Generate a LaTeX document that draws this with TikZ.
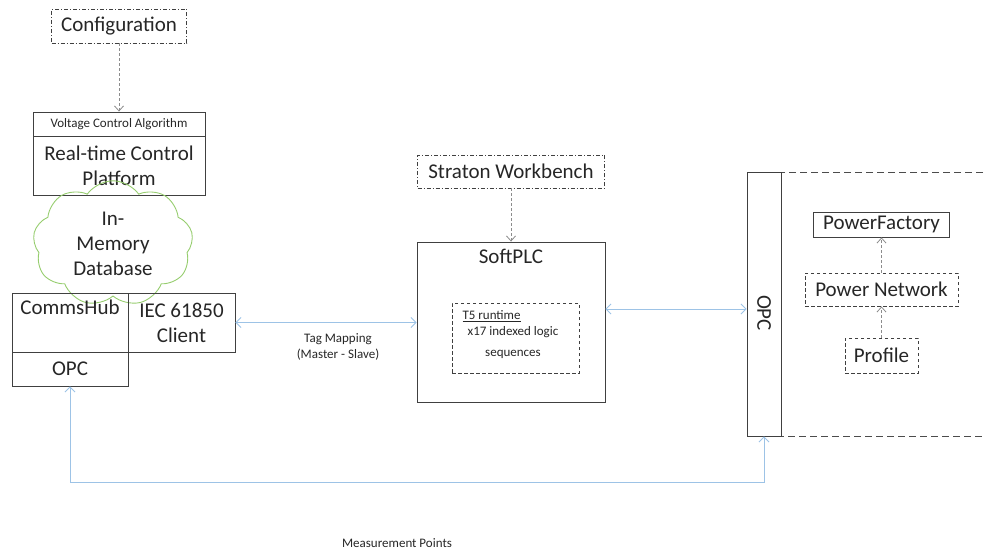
\documentclass[tikz,border=0pt]{standalone}
\usepackage{fontspec}
\setmainfont{Carlito}
\usetikzlibrary{arrows.meta, shapes.symbols}

\definecolor{linkblue}{RGB}{157,195,230}
\definecolor{cloudgreen}{RGB}{150,205,110}

\begin{document}
\begin{tikzpicture}[x=1pt, y=-1pt, every node/.style={font=\fontsize{21}{25}\selectfont, text=black!85}]
  % -----------------------------
  % SETTINGS
  % -----------------------------
  \def\W{985}   % page width
  \def\H{554}   % page height
  \def\ybus{482} % bottom measurement line

  % -----------------------------
  % STYLES
  % -----------------------------
  \tikzset{
    blk/.style={draw=black!75, line width=0.9pt, inner sep=0pt, align=center},
    blkd/.style={blk, dash pattern=on 3.5pt off 2.5pt},
    blkdd/.style={blk, dash pattern=on 4pt off 2pt on 1pt off 2pt},
    small/.style={font=\fontsize{13}{21}\selectfont},
    cfgline/.style={draw=black!45, line width=0.8pt, dash pattern=on 3pt off 2pt,
                    -{Straight Barb[length=5pt, width=9pt]}},
    link/.style={draw=linkblue, line width=0.9pt,
                 {Straight Barb[length=5pt, width=10pt]}-{Straight Barb[length=5pt, width=10pt]}},
  }

  \useasboundingbox (0,0) rectangle (\W,\H);

  % -----------------------------
  % LEFT: CONTROL PLATFORM
  % -----------------------------
  \node[blkdd, minimum width=135pt, minimum height=34pt] (cfg) at (119,26) {Configuration};
  \node[blk, small, minimum width=172pt, minimum height=24pt] (vca) at (119,124) {Voltage Control Algorithm};
  \node[blk, minimum width=172pt, minimum height=59pt] (rt) at (119,165.5) {Real-time Control\\Platform};

  \node[cloud, draw=cloudgreen, line width=0.9pt, cloud puffs=9, cloud puff arc=110,
        minimum width=160pt, minimum height=97pt, inner sep=0pt, align=center]
        (imdb) at (113,243.5) {In-\\Memory\\Database};

  \node[blk, minimum width=116pt, minimum height=59pt,
        label={[anchor=north, yshift=-4pt]north:CommsHub}] (hub) at (70,322.5) {};
  \node[blk, minimum width=116pt, minimum height=34pt] (opcl) at (70,369) {OPC};
  \node[blk, minimum width=107pt, minimum height=59pt] (iec) at (181.5,322.5) {IEC 61850\\Client};

  % -----------------------------
  % MIDDLE: SOFTPLC
  % -----------------------------
  \node[blkdd, minimum width=187pt, minimum height=33pt] (straton) at (511,171.5) {Straton Workbench};
  \node[blk, minimum width=188pt, minimum height=160pt,
        label={[anchor=north, yshift=-4pt]north:SoftPLC}] (plc) at (511,322) {};
  \node[blkd, minimum width=127pt, minimum height=70pt] (t5) at (515.5,338) {};
  \node[small, anchor=west] (t5lab) at (459,316) {\underline{T5 runtime}};
  \node[small, align=center] (t5txt) at (513,342.5) {x17 indexed logic\\sequences};

  % -----------------------------
  % RIGHT: OPC + POWERFACTORY
  % -----------------------------
  \draw[draw=black!70, line width=0.9pt, dash pattern=on 7pt off 4pt]
    (\W+20,172) -- (781,172) -- (781,436) -- (\W+20,436);
  \node[blk, minimum width=34pt, minimum height=264pt] (opcr) at (764,304) {};
  \node[rotate=-90] (opcrlab) at (764,313) {OPC};

  \node[blk, minimum width=136pt, minimum height=25pt] (pf) at (881.5,224.5) {PowerFactory};
  \node[blkd, minimum width=153pt, minimum height=33pt] (pn) at (881.5,289.5) {Power Network};
  \node[blkd, minimum width=73pt, minimum height=35pt] (prof) at (881.5,355.5) {Profile};

  % -----------------------------
  % CONNECTORS
  % -----------------------------
  \draw[cfgline] (cfg) -- (vca);
  \draw[cfgline] (straton) -- (plc);
  \draw[cfgline] (prof) -- (pn);
  \draw[cfgline] (pn) -- (pf);

  % Tag mapping
  \draw[link] (iec.east) -- (iec.east -| plc.west);
  \node[small, align=center, font=\fontsize{13}{16}\selectfont] (tag) at (338,347) {Tag Mapping\\(Master - Slave)};

  \coordinate (plcR) at ([yshift=13pt]plc.east);
  \draw[link] (plcR) -- (plcR -| opcr.west);

  % Measurement points
  \coordinate (mp) at (0,\ybus);
  \draw[link] (opcl.south) -- (opcl.south |- mp) -| (opcr.south);
  \node[small] (mplab) at (397,543) {Measurement Points};
\end{tikzpicture}
\end{document}
